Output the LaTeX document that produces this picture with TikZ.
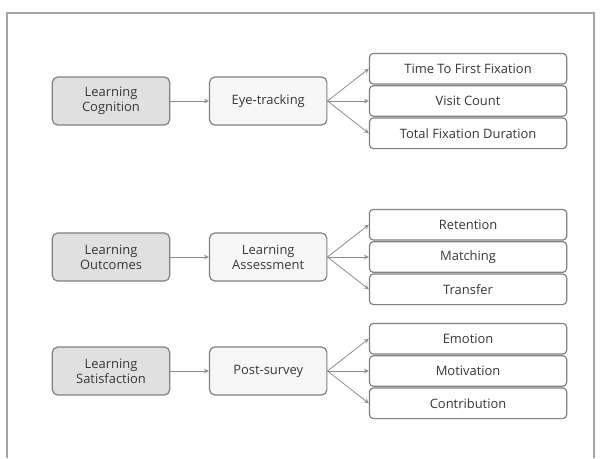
\documentclass[tikz,border=0pt]{standalone}
\usepackage{fontspec}
\setmainfont{Open Sans}
\usepackage{tikz}
\usetikzlibrary{shapes,arrows,positioning,calc}
\definecolor{boxline}{RGB}{128,128,128}
\definecolor{framegray}{RGB}{165,165,165}
\definecolor{darkfill}{RGB}{224,224,224}
\definecolor{lightfill}{RGB}{247,247,247}
\definecolor{darktext}{RGB}{55,55,55}
\definecolor{arrowgray}{RGB}{140,140,140}

\begin{document}
\begin{tikzpicture}[
            x=0.75pt, y=-0.75pt,
            every node/.style={font=\fontsize{9.7}{11.5}\selectfont, text=darktext, align=center},
            category/.style={rectangle, rounded corners=4pt, draw=boxline, line width=0.9pt, fill=darkfill,
                             minimum width=88pt, minimum height=36pt},
            method/.style={rectangle, rounded corners=4pt, draw=boxline, line width=0.9pt, fill=lightfill,
                           minimum width=88pt, minimum height=36pt},
            measure/.style={rectangle, rounded corners=3pt, draw=boxline, line width=0.9pt, fill=white,
                            minimum width=148pt, minimum height=23pt},
            arrow/.style={->,>=stealth,line width=0.6pt,color=arrowgray}
        ]

        \useasboundingbox (0,0) rectangle (600,458);
        \draw[framegray, line width=1.1pt] (7,458) -- (7,13) -- (594,13) -- (594,458);

        % row 1
        \node[category] (cognition) at (111,101) {Learning\\Cognition};
        \node[method, right=29pt of cognition] (eye) {Eye-tracking};
        \node[measure, right=31pt of eye] (visit) {Visit Count};
        \node[measure, above=0.3pt of visit] (ttff) {Time To First Fixation};
        \node[measure, below=0.3pt of visit] (tfd) {Total Fixation Duration};

        % row 2
        \node[category] (outcomes) at (111,257) {Learning\\Outcomes};
        \node[method, right=29pt of outcomes] (assess) {Learning\\Assessment};
        \node[measure, right=31pt of assess] (matching) {Matching};
        \node[measure, above=0.3pt of matching] (retention) {Retention};
        \node[measure, below=0.3pt of matching] (transfer) {Transfer};

        % row 3
        \node[category] (satisfaction) at (111,371) {Learning\\Satisfaction};
        \node[method, right=29pt of satisfaction] (survey) {Post-survey};
        \node[measure, right=31pt of survey] (motivation) {Motivation};
        \node[measure, above=0.3pt of motivation] (emotion) {Emotion};
        \node[measure, below=0.3pt of motivation] (contribution) {Contribution};

        \draw[arrow] (cognition) -- (eye);
        \draw[arrow] (eye.east) -- (ttff.west);
        \draw[arrow] (eye.east) -- (visit.west);
        \draw[arrow] (eye.east) -- (tfd.west);
        \draw[arrow] (outcomes) -- (assess);
        \draw[arrow] (assess.east) -- (retention.west);
        \draw[arrow] (assess.east) -- (matching.west);
        \draw[arrow] (assess.east) -- (transfer.west);
        \draw[arrow] (satisfaction) -- (survey);
        \draw[arrow] (survey.east) -- (emotion.west);
        \draw[arrow] (survey.east) -- (motivation.west);
        \draw[arrow] (survey.east) -- (contribution.west);

        \end{tikzpicture}
\end{document}
